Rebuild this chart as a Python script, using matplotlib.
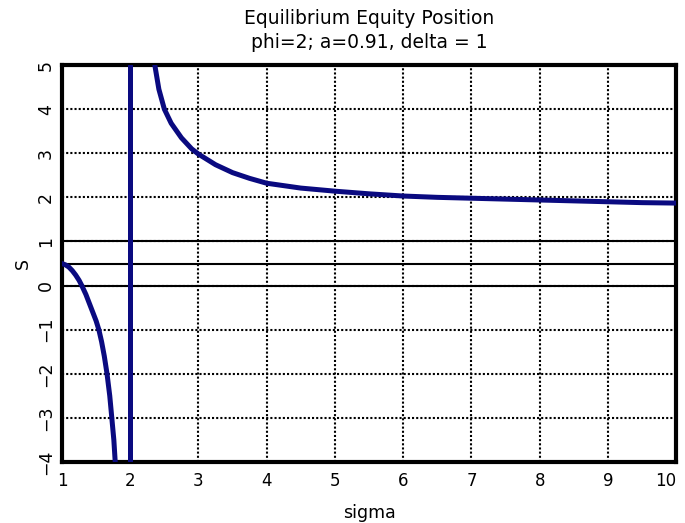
import numpy as np
import matplotlib.pyplot as plt

# left branch (sigma < 2)
sig_left = [1.0, 1.05, 1.1, 1.15, 1.2, 1.25, 1.29, 1.35, 1.4, 1.45, 1.5, 1.54, 1.58, 1.62, 1.66, 1.7, 1.73, 1.76, 1.78]
s_left = [0.5, 0.47, 0.42, 0.34, 0.24, 0.12, 0.0, -0.2, -0.4, -0.6, -0.8, -1.0, -1.27, -1.6, -2.0, -2.5, -3.0, -3.5, -4.0]

# right branch (sigma > 2)
sig_right = [2.36, 2.42, 2.5, 2.6, 2.75, 2.9, 3.0, 3.25, 3.5, 3.75, 4.0, 4.5, 5.0, 5.5, 6.0, 6.5, 7.0, 7.5, 8.0, 8.5, 9.0, 9.5, 10.0]
s_right = [5.0, 4.45, 4.0, 3.68, 3.35, 3.1, 2.98, 2.74, 2.56, 2.43, 2.32, 2.21, 2.14, 2.08, 2.03, 2.0, 1.98, 1.96, 1.94, 1.92, 1.9, 1.88, 1.87]

asym = 2.0
hlines = [0.0, 0.5, 1.0]

xticks = list(range(1, 11))
yticks = list(range(-4, 6))

navy = '#0a0a80'

fig = plt.figure(figsize=(6.85, 5.23), dpi=100)
ax = fig.add_axes([0.0905, 0.1166, 0.8965, 0.7591])

ax.grid(True, color='black', linestyle=(0, (1, 1)), linewidth=1.5)
for h in hlines:
    ax.axhline(h, color='black', linewidth=1.5, zorder=2)

ax.plot(sig_left, s_left, color=navy, linewidth=3.6, zorder=3, solid_capstyle='round')
ax.plot(sig_right, s_right, color=navy, linewidth=3.6, zorder=3, solid_capstyle='round')
ax.axvline(asym, color=navy, linewidth=3.6, zorder=3)

ax.set_xlim(1, 10)
ax.set_ylim(-4, 5)
ax.set_xticks(xticks)
ax.set_yticks(yticks)
ax.set_yticklabels([str(v).replace('-', '\u2212') for v in yticks], rotation=90, va='center')
ax.tick_params(length=0, labelsize=12, pad=7)
ax.tick_params(axis='y', labelsize=12.5, pad=5)
# keep the last x label inside the figure
ax.get_xticklabels()[-1].set_horizontalalignment('right')

for sp in ax.spines.values():
    sp.set_linewidth(3)

ax.set_xlabel('sigma', fontsize=12.5, labelpad=10)
ax.set_ylabel('S', fontsize=12.5, labelpad=4)
ax.set_title('Equilibrium Equity Position\nphi=2; a=0.91, delta = 1', fontsize=13.5, pad=12, linespacing=1.35)

fig.savefig('out.png')
